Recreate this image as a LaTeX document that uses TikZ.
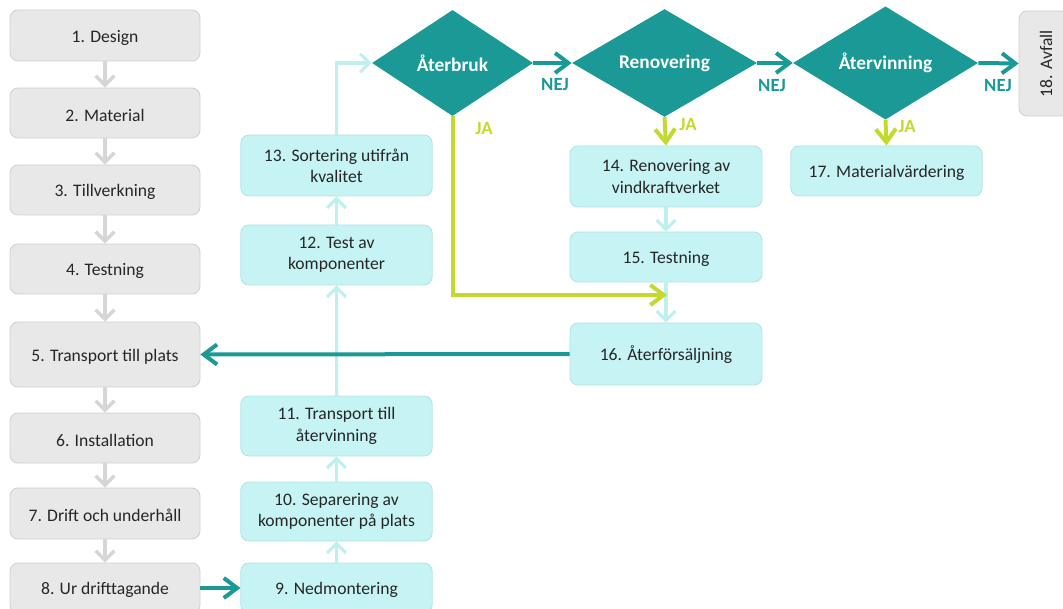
\documentclass[tikz,border=0pt]{standalone}
\usepackage{fontspec}
\setmainfont{Carlito}
\usetikzlibrary{arrows.meta,shapes.geometric}
\definecolor{teal1}{RGB}{27,153,150}
\definecolor{cyanfill}{RGB}{198,243,243}
\definecolor{cyanline}{RGB}{178,226,228}
\definecolor{cyanarrow}{RGB}{190,240,240}
\definecolor{grayfill}{RGB}{232,232,232}
\definecolor{grayline}{RGB}{208,208,208}
\definecolor{grayarrow}{RGB}{214,214,214}
\definecolor{green1}{RGB}{196,216,46}
\tikzset{
  box/.style={rectangle, rounded corners=6pt, align=center, inner sep=2pt,
    font=\fontsize{13.2}{16}\selectfont, text=black!85, line width=0.6pt,
    execute at begin node={\rule{0pt}{12.5pt}}},
  graybox/.style={box, fill=grayfill, draw=grayline, minimum width=142.5pt, minimum height=37.5pt},
  cyanbox/.style={box, fill=cyanfill, draw=cyanline, minimum width=143.5pt},
  decision/.style={diamond, fill=teal1, inner sep=0pt, text=white,
    font=\fontsize{14.5}{17}\selectfont\bfseries, minimum height=79.5pt},
  grayarr/.style={draw=grayarrow, line width=2.6pt, -{Straight Barb[length=7pt,width=14pt]}},
  cyanarr/.style={draw=cyanarrow, line width=2.4pt, -{Straight Barb[length=7pt,width=14pt]}},
  tealarr/.style={draw=teal1, line width=3pt, -{Straight Barb[length=10pt,width=15pt]}},
  greenarr/.style={draw=green1, line width=3pt, -{Straight Barb[length=10pt,width=15pt]}},
  neglabel/.style={text=teal1, font=\fontsize{14}{16}\selectfont\bfseries},
  yeslabel/.style={text=green1, font=\fontsize{14}{16}\selectfont\bfseries},
}
\begin{document}
\begin{tikzpicture}[x=0.75pt,y=-0.75pt]
\useasboundingbox (0,0) rectangle (1063,609);
% left grey column
\node[graybox, minimum height=38.25pt] (g1) at (105,35.5) {1. Design};
\node[graybox] (g2) at (105,113) {2. Material};
\node[graybox] (g3) at (105,190) {3. Tillverkning};
\node[graybox] (g4) at (105,269) {4. Testning};
\node[graybox, minimum height=48.75pt] (g5) at (105,354.5) {5. Transport till plats};
\node[graybox] (g6) at (105,438) {6. Installation};
\node[graybox, minimum height=38.25pt] (g7) at (105,513.5) {7. Drift och underhåll};
\node[graybox] (g8) at (105,588) {8. Ur drifttagande};
% second column
\node[cyanbox, minimum height=37.5pt] (c9) at (336.5,588) {9. Nedmontering};
\node[cyanbox, minimum height=44.25pt] (c10) at (336.5,511.5) {10. Separering av\\komponenter på plats};
\node[cyanbox, minimum height=45pt] (c11) at (336.5,426) {11. Transport till\\återvinning};
\node[cyanbox, minimum height=45pt] (c12) at (336.5,255) {12. Test av\\komponenter};
\node[cyanbox, minimum height=45.75pt] (c13) at (336.5,165.5) {13. Sortering utifrån\\kvalitet};
% third column
\node[cyanbox, minimum width=144pt, minimum height=45.75pt] (c14) at (666,176.5) {14. Renovering av\\vindkraftverket};
\node[cyanbox, minimum width=144pt, minimum height=37.5pt] (c15) at (666,257) {15. Testning};
\node[cyanbox, minimum width=144pt, minimum height=46.5pt] (c16) at (666,354) {16. Återförsäljning};
\node[cyanbox, minimum height=37.5pt] (c17) at (886.5,171) {17. Materialvärdering};
\node[graybox, minimum width=37.5pt, minimum height=78.75pt] (g18) at (1044,63.5) {};
\node[rotate=90, font=\fontsize{13.2}{16}\selectfont, text=black!85] (t18) at (1046,63.5) {18. Avfall};
% decisions
\node[decision, minimum width=120.75pt] (d1) at (452.5,63) {Återbruk};
\node[decision, minimum width=138.75pt] (d2) at (664.5,63) {Renovering};
\node[decision, minimum width=138.75pt] (d3) at (885.5,63) {Återvinning};
% grey arrows
\draw[grayarr] (g1.south) -- (g2.north);
\draw[grayarr] (g2.south) -- (g3.north);
\draw[grayarr] (g3.south) -- (g4.north);
\draw[grayarr] (g4.south) -- (g5.north);
\draw[grayarr] (g5.south) -- (g6.north);
\draw[grayarr] (g6.south) -- (g7.north);
\draw[grayarr] (g7.south) -- (g8.north);
% cyan arrows
\draw[cyanarr] (c9.north) -- (c10.south);
\draw[cyanarr] (c10.north) -- (c11.south);
\draw[cyanarr] (c11.north) -- (c12.south);
\draw[cyanarr] (c12.north) -- (c13.south);
\draw[cyanarr] (c13.north) |- (d1.west);
\draw[cyanarr] (c14.south) -- (c15.north);
\draw[cyanarr] (c15.south) -- (c16.north);
% teal arrows
\draw[tealarr] (c16.west) -- (g5.east);
\draw[tealarr] (g8.east) -- (c9.west);
\draw[tealarr] (d1.east) -- (d2.west);
\draw[tealarr] (d2.east) -- (d3.west);
\draw[tealarr] (d3.east) -- (g18.west);
% green arrows
\coordinate (j) at (667,295);
\draw[greenarr] (d1.south) |- (j);
\draw[greenarr] (d2.south) -- (c14.north);
\draw[greenarr] (d3.south) -- (c17.north);
% labels
\node[neglabel] (n1) at (555,85) {NEJ};
\node[neglabel] (n2) at (772,86) {NEJ};
\node[neglabel] (n3) at (998,86) {NEJ};
\node[yeslabel] (y1) at (484,129) {JA};
\node[yeslabel] (y2) at (688,125) {JA};
\node[yeslabel] (y3) at (907,127) {JA};
\end{tikzpicture}
\end{document}
